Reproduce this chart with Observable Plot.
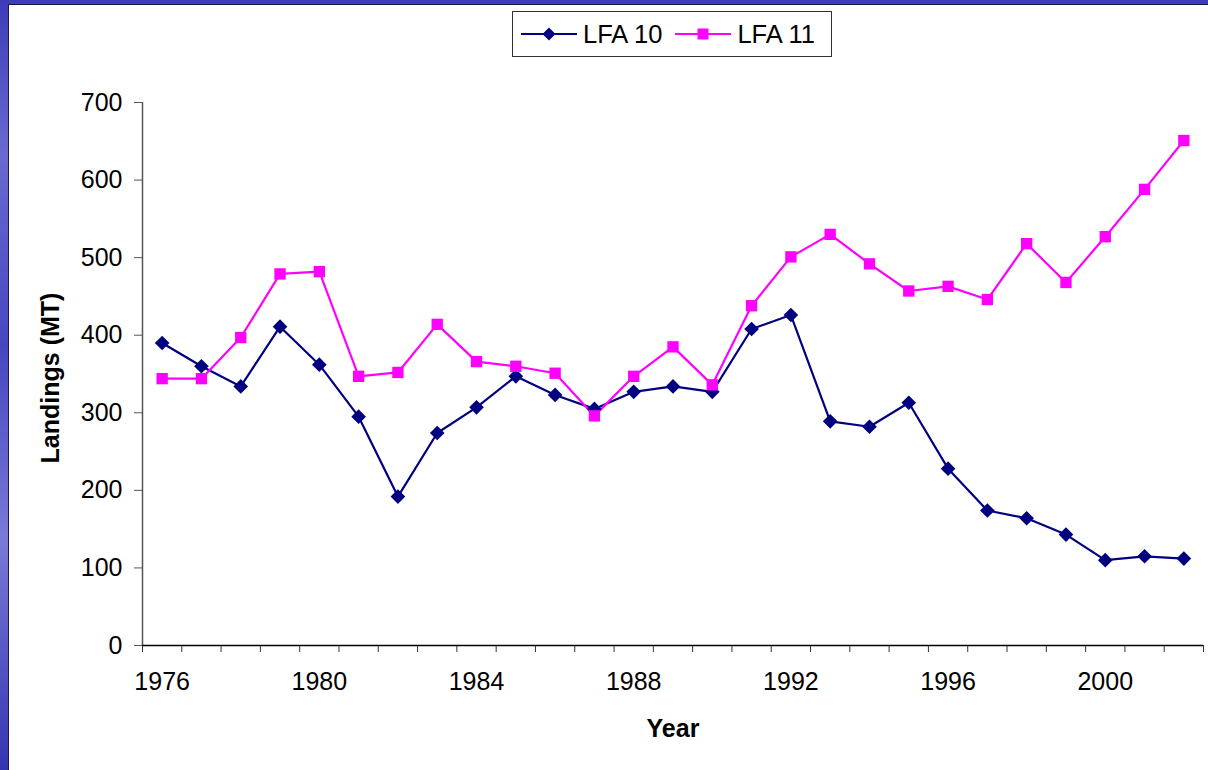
<!DOCTYPE html>
<html>
<head>
<meta charset="utf-8">
<script src="https://cdn.jsdelivr.net/npm/d3@7"></script>
<script src="https://cdn.jsdelivr.net/npm/@observablehq/plot@0.6"></script>
<style>
  html, body { margin: 0; padding: 0; }
  body { width: 1208px; height: 770px; overflow: hidden; position: relative;
         background: linear-gradient(180deg, #3c3cb8 0%, #6a6ad0 20%, #4646c0 45%, #7a7ad8 70%, #3434b0 100%);
         font-family: "Liberation Sans", Arial, sans-serif; }
  #panel { position: absolute; left: 8px; top: 4px; width: 1200px; height: 766px; background: #fff;
           border-left: 1px solid #1a1a40; border-top: 1px solid #1a1a40; }
  #legend { position: absolute; left: 512px; top: 11px; width: 318px; height: 44px; border: 1px solid #333;
            background: #fff; display: flex; align-items: center; font-size: 25.5px; color: #000; }
  #legend .item { display: flex; align-items: center; }
  #legend svg { display: block; }
</style>
</head>
<body>
<div id="panel"></div>
<div id="legend"></div>
<script>
const years = d3.range(1976, 2003);
const lfa10 = [390, 360, 334, 411, 362, 295, 192, 274, 307, 347, 323, 305, 327, 334, 327, 408, 426, 289, 282, 313, 228, 174, 164, 143, 110, 115, 112];
const lfa11 = [344, 344, 397, 479, 482, 347, 352, 414, 366, 360, 351, 296, 347, 385, 336, 438, 501, 530, 492, 457, 463, 446, 518, 468, 527, 588, 651];
const seriesNames = ["LFA 10", "LFA 11"];
const seriesColors = ["#000080", "#FF00FF"];
const yTicks = [0, 100, 200, 300, 400, 500, 600, 700];
const xLabelTicks = [1976, 1980, 1984, 1988, 1992, 1996, 2000];
const xBoundaryTicks = d3.range(1975.5, 2003, 1);

const rows = [];
years.forEach((yr, i) => {
  rows.push({year: yr, value: lfa10[i], series: seriesNames[0]});
  rows.push({year: yr, value: lfa11[i], series: seriesNames[1]});
});

const chart = Plot.plot({
  width: 1199,
  height: 765,
  marginLeft: 133,
  marginRight: 5,
  marginTop: 97,
  marginBottom: 125,
  style: {fontFamily: "'Liberation Sans', Arial, sans-serif", fontSize: "25px", color: "#000", background: "transparent"},
  x: {type: "linear", domain: [1975.5, 2002.5]},
  y: {domain: [0, 700]},
  color: {domain: seriesNames, range: seriesColors},
  marks: [
    Plot.axisY({ticks: yTicks, tickSize: 8, tickPadding: 12, tickFormat: d => d, label: null, stroke: "#555", fontSize: 25}),
    Plot.axisX({ticks: xBoundaryTicks, tickSize: 7, tickFormat: () => "", label: null, stroke: "#333"}),
    Plot.axisX({ticks: xLabelTicks, tickSize: 0, tickPadding: 27, tickFormat: d => String(d), label: null, fontSize: 25}),
    Plot.ruleX([1975.5], {stroke: "#555", strokeWidth: 1.5}),
    Plot.ruleY([0], {stroke: "#000", strokeWidth: 1.5}),
    Plot.line(rows, {x: "year", y: "value", stroke: "series", strokeWidth: 2.2}),
    Plot.dot(rows.filter(d => d.series === "LFA 10"), {x: "year", y: "value", fill: "series", stroke: null, symbol: "diamond2", r: 6.6}),
    Plot.dot(rows.filter(d => d.series === "LFA 11"), {x: "year", y: "value", fill: "series", stroke: null, symbol: "square", r: 6.4}),
    Plot.text(["Year"], {frameAnchor: "bottom", textAnchor: "middle", dy: 91, lineAnchor: "bottom", fontWeight: "bold", fontSize: 25}),
    Plot.text(["Landings (MT)"], {frameAnchor: "left", textAnchor: "middle", lineAnchor: "middle", dx: -92, dy: 4, rotate: -90, fontWeight: "bold", fontSize: 25})
  ]
});
document.getElementById("panel").appendChild(chart);

// Legend
const legend = document.getElementById("legend");
const markerSvg = (color, kind) => {
  const shape = kind === "diamond"
    ? `<path d="M28,1.5 L34.5,8 L28,14.5 L21.5,8 Z" fill="${color}"/>`
    : `<rect x="22.5" y="2.5" width="11" height="11" fill="${color}"/>`;
  return `<svg width="56" height="16"><line x1="0" y1="8" x2="56" y2="8" stroke="${color}" stroke-width="2"/>${shape}</svg>`;
};
legend.innerHTML =
  `<div class="item" style="margin-left:8px">${markerSvg(seriesColors[0], "diamond")}<span style="margin-left:6px">${seriesNames[0]}</span></div>` +
  `<div class="item" style="margin-left:13px">${markerSvg(seriesColors[1], "square")}<span style="margin-left:6px">${seriesNames[1]}</span></div>`;
</script>
</body>
</html>
